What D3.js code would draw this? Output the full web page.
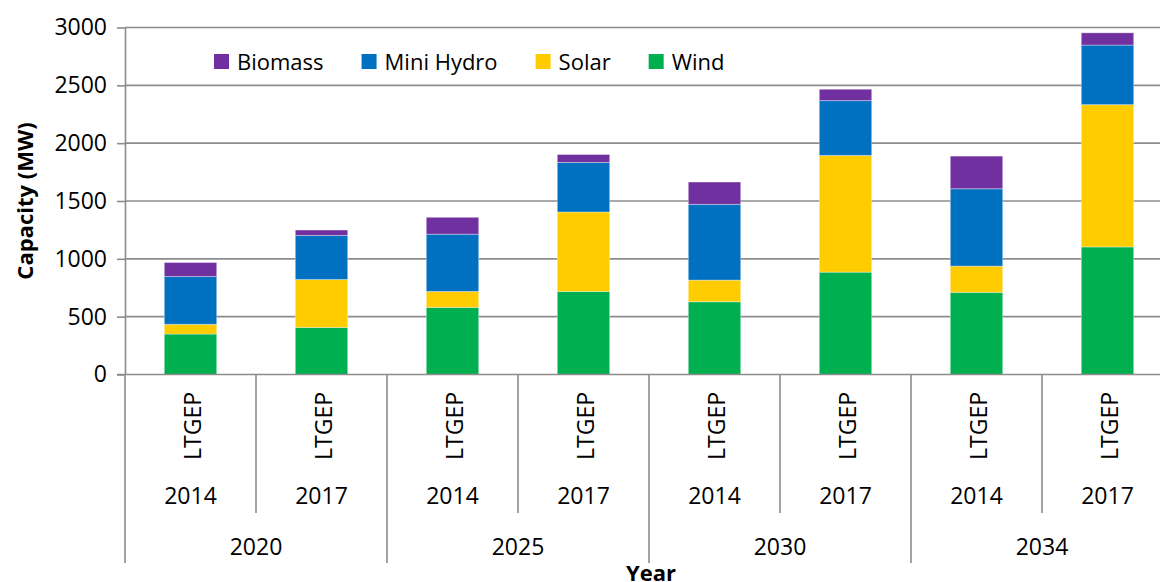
<!DOCTYPE html>
<html>
<head>
<meta charset="utf-8">
<script src="https://cdn.jsdelivr.net/npm/d3@7"></script>
<style>
  html, body { margin: 0; padding: 0; background: #fff; }
  svg { display: block; font-family: "Open Sans", sans-serif; }
</style>
</head>
<body>
<svg id="chart" width="1160" height="582"></svg>
<script>
// ---- data ----
const years = ["2020", "2025", "2030", "2034"];
const plans = ["2014", "2017"];
const scenario = "LTGEP";
const seriesNames = ["Wind", "Solar", "Mini Hydro", "Biomass"];
const legendOrder = ["Biomass", "Mini Hydro", "Solar", "Wind"];
const wind    = [350, 407, 580, 718, 629, 885, 710, 1103];
const solar   = [84, 414, 138, 687, 187, 1009, 227, 1230];
const hydro   = [413, 381, 495, 428, 655, 474, 669, 515];
const biomass = [121, 47, 146, 69, 193, 98, 282, 106];
const yTicks = [0, 500, 1000, 1500, 2000, 2500, 3000];

// ---- build table ----
const rows = [];
years.forEach((y, gi) => plans.forEach((p, pi) => {
  const i = gi * plans.length + pi;
  rows.push({ key: i, year: y, plan: p, "Wind": wind[i], "Solar": solar[i], "Mini Hydro": hydro[i], "Biomass": biomass[i] });
}));

const colors = { "Biomass": "#7030A0", "Mini Hydro": "#0070C0", "Solar": "#FFCC00", "Wind": "#00B050" };

const svg = d3.select("#chart");
const left = 125, step = 131;
const x = d3.scaleBand().domain(rows.map(d => d.key)).range([left, left + step * rows.length]).padding(0);
const y = d3.scaleLinear().domain([0, 3000]).range([374.5, 27.5]);
const gridColor = "#8c8c8c";

// gridlines
svg.append("g").selectAll("line").data(yTicks.slice(1)).join("line")
  .attr("x1", left).attr("x2", 1160)
  .attr("y1", d => y(d)).attr("y2", d => y(d))
  .attr("stroke", gridColor).attr("stroke-width", 1.6);

// y axis
const yAxis = svg.append("g").attr("transform", `translate(${left},0)`)
  .call(d3.axisLeft(y).tickValues(yTicks).tickFormat(d3.format("d")).tickSize(8).tickPadding(10).tickSizeOuter(0));
yAxis.select(".domain").attr("stroke", gridColor).attr("stroke-width", 1.6);
yAxis.selectAll(".tick line").attr("stroke", gridColor).attr("stroke-width", 1.6);
yAxis.selectAll(".tick text").attr("font-size", 23).attr("fill", "#000")
  .attr("font-family", "Open Sans, sans-serif");

// stacked bars
const stack = d3.stack().keys(seriesNames)(rows);
const bw = x.bandwidth() * 0.4;
svg.append("g").selectAll("g").data(stack).join("g")
  .attr("fill", s => colors[s.key])
  .selectAll("rect").data(s => s).join("rect")
  .attr("x", d => x(d.data.key) + (x.bandwidth() - bw) / 2)
  .attr("width", bw)
  .attr("y", d => y(d[1]))
  .attr("height", d => y(d[0]) - y(d[1]))
  .attr("stroke", "#ffffff").attr("stroke-opacity", 0.35).attr("stroke-width", 1);

// category axis baseline
svg.append("line").attr("x1", left - 8).attr("x2", 1160)
  .attr("y1", y(0)).attr("y2", y(0))
  .attr("stroke", gridColor).attr("stroke-width", 1.6);

// separators
const bounds = d3.range(rows.length + 1);
svg.append("g").selectAll("line").data(bounds).join("line")
  .attr("x1", i => left + i * x.step()).attr("x2", i => left + i * x.step())
  .attr("y1", y(0))
  .attr("y2", i => (i % plans.length === 0) ? 563 : 513)
  .attr("stroke", gridColor).attr("stroke-width", 1.6);

// scenario labels (rotated)
svg.append("g").selectAll("text").data(rows).join("text")
  .attr("transform", d => `translate(${x(d.key) + x.bandwidth() / 2 + 1},426) rotate(-90)`)
  .attr("text-anchor", "middle").attr("dominant-baseline", "central")
  .attr("font-size", 23).attr("fill", "#000").text(scenario);

// plan labels
svg.append("g").selectAll("text").data(rows).join("text")
  .attr("x", d => x(d.key) + x.bandwidth() / 2)
  .attr("y", 504)
  .attr("text-anchor", "middle").attr("font-size", 23).attr("fill", "#000")
  .text(d => d.plan);

// year labels
svg.append("g").selectAll("text").data(years).join("text")
  .attr("x", (d, i) => left + (i * plans.length + plans.length / 2) * x.step())
  .attr("y", 555)
  .attr("text-anchor", "middle").attr("font-size", 23).attr("fill", "#000")
  .text(d => d);

// axis titles
svg.append("text").attr("x", 651).attr("y", 581)
  .attr("text-anchor", "middle").attr("font-size", 22).attr("font-weight", "bold")
  .attr("fill", "#000").text("Year");
svg.append("text").attr("transform", "translate(24,201) rotate(-90)")
  .attr("text-anchor", "middle").attr("dominant-baseline", "central")
  .attr("font-size", 22).attr("font-weight", "bold")
  .attr("fill", "#000").text("Capacity (MW)");

// legend
const lg = svg.append("g");
let lx = 214;
legendOrder.forEach(name => {
  const g = lg.append("g");
  g.append("rect").attr("x", lx).attr("y", 54).attr("width", 15).attr("height", 15).attr("fill", colors[name]);
  const t = g.append("text").attr("x", lx + 23).attr("y", 61)
    .attr("dominant-baseline", "central").attr("font-size", 22).attr("fill", "#000").text(name);
  lx += 23 + t.node().getComputedTextLength() + 38;
});
</script>
</body>
</html>
